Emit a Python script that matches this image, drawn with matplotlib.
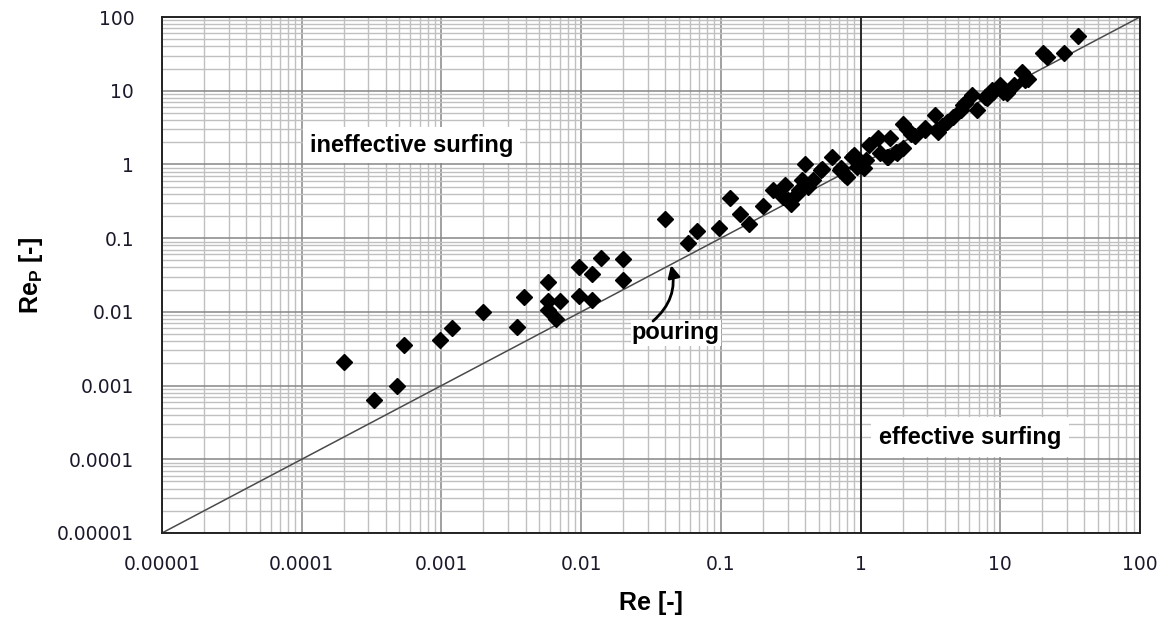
import matplotlib
matplotlib.use('Agg')
import matplotlib.pyplot as plt
import numpy as np
from matplotlib.ticker import FixedLocator, FixedFormatter, LogLocator, NullFormatter

# measured Reynolds numbers: film Re vs. particle Re_P
re = [2.0e-4, 3.3e-4, 4.8e-4, 5.4e-4, 9.7e-4, 1.2e-3, 2.0e-3, 3.5e-3, 3.9e-3,
      5.8e-3, 5.8e-3, 5.8e-3, 7.0e-3, 6.6e-3, 9.7e-3, 9.7e-3, 0.0119, 0.0119,
      0.0138, 0.0199, 0.0199, 0.040, 0.058, 0.067, 0.097, 0.117, 0.137, 0.16,
      0.20, 0.238, 0.29, 0.28, 0.32, 0.36, 0.35, 0.38, 0.30, 0.42, 0.40, 0.46,
      0.53, 0.52, 0.62, 0.71, 0.73, 0.77, 0.80, 0.87, 0.89, 0.95, 1.0, 1.05,
      1.1, 1.14, 1.34, 1.38, 1.55, 1.63, 1.58, 1.79, 1.82, 2.0, 2.0, 2.15,
      2.3, 2.45, 2.9, 2.9, 3.5, 3.41, 3.6, 3.8, 4.13, 4.6, 5.2, 5.45, 5.6,
      6.25, 6.8, 7.8, 8.0, 8.7, 8.9, 10.0, 10.4, 11.2, 12.5, 14.3, 15.1,
      15.9, 20.3, 21.5, 28.5, 36.0]
re_p = [0.0021, 0.00064, 0.0010, 0.0036, 0.0042, 0.0060, 0.010, 0.0063, 0.0157,
        0.0254, 0.0142, 0.0106, 0.0142, 0.0080, 0.041, 0.0164, 0.0323, 0.0145,
        0.054, 0.052, 0.027, 0.18, 0.085, 0.125, 0.136, 0.347, 0.212, 0.155,
        0.275, 0.45, 0.525, 0.365, 0.29, 0.45, 0.40, 0.61, 0.33, 0.50, 1.0, 0.62,
        0.87, 0.84, 1.27, 0.84, 0.885, 0.72, 0.68, 1.27, 1.34, 0.93, 1.0, 0.89,
        1.15, 1.83, 2.26, 1.42, 1.27, 2.26, 1.27, 1.49, 1.42, 1.65, 3.5, 3.0,
        2.6, 2.4, 2.9, 3.1, 2.9, 4.68, 2.78, 3.3, 3.8, 4.44, 5.47, 6.4, 6.75,
        8.75, 5.47, 8.3, 7.9, 10.2, 9.7, 11.9, 9.7, 9.2, 11.9, 18.1, 14.0,
        14.6, 32.0, 29.0, 32.0, 55.0]

# Re_P = Re boundary
boundary = [1e-5, 100]

decades = [1e-5, 1e-4, 1e-3, 1e-2, 1e-1, 1, 10, 100]
decade_labels = ['0.00001', '0.0001', '0.001', '0.01', '0.1', '1', '10', '100']

label_font = 'Liberation Sans'
plt.rcParams['mathtext.fontset'] = 'custom'
plt.rcParams['mathtext.bf'] = 'Liberation Sans:bold'
plt.rcParams['mathtext.rm'] = 'Liberation Sans:bold'

fig = plt.figure(figsize=(11.68, 6.25), dpi=100)
ax = fig.add_axes([162/1168, 1 - 533/625, (1140 - 162)/1168, (533 - 17)/625])

ax.set_xscale('log')
ax.set_yscale('log')
ax.set_xlim(1e-5, 100)
ax.set_ylim(1e-5, 100)

for axis in (ax.xaxis, ax.yaxis):
  axis.set_major_locator(FixedLocator(decades))
  axis.set_major_formatter(FixedFormatter(decade_labels))
  axis.set_minor_locator(LogLocator(base=10, subs=np.arange(2, 10), numticks=20))
  axis.set_minor_formatter(NullFormatter())

ax.grid(which='minor', color='#c0c0c0', lw=1.0, zorder=0)
ax.grid(which='major', color='#868686', lw=1.1, zorder=0)
ax.set_axisbelow(True)
ax.axvline(1, color='#2a2a2a', lw=1.4, zorder=1)

ax.tick_params(which='both', length=0)
ax.tick_params(axis='y', pad=20, labelsize=13.5, labelcolor='#1a1a2a')
ax.tick_params(axis='x', pad=16, labelsize=13.5, labelcolor='#1a1a2a')
for sp in ax.spines.values():
  sp.set_color('#222222')
  sp.set_linewidth(1.4)

ax.plot(boundary, boundary, color='#4a4a4a', lw=1.1, zorder=2)
ax.plot(re, re_p, linestyle='none', marker='D', ms=8, color='black', zorder=3)

ax.set_xlabel('Re [-]', fontsize=18, fontweight='bold', family=label_font, labelpad=12)
ax.set_ylabel(r'Re$_\mathbf{P}$ [-]', fontsize=18, fontweight='bold', family=label_font, labelpad=9)

box = dict(facecolor='white', edgecolor='none', pad=5)
ax.text(1.15e-4, 1.83, 'ineffective surfing', fontsize=17, fontweight='bold',
        family=label_font, va='center', ha='left', bbox=box, zorder=4)
ax.text(1.35, 2.0e-4, 'effective surfing', fontsize=17, fontweight='bold',
        family=label_font, va='center', ha='left',
        bbox=dict(facecolor='white', edgecolor='none', pad=6), zorder=4)
ax.text(0.0231, 0.0052, 'pouring', fontsize=17, fontweight='bold',
        family=label_font, va='center', ha='left',
        bbox=dict(facecolor='white', edgecolor='none', pad=1), zorder=4)
ax.annotate('', xy=(0.044, 0.043), xytext=(0.0327, 0.0075),
            arrowprops=dict(arrowstyle='-|>', color='black', lw=2.0,
                            mutation_scale=18, shrinkA=0, shrinkB=0,
                            connectionstyle='arc3,rad=0.3'), zorder=5)

fig.savefig('out.png', dpi=100)
